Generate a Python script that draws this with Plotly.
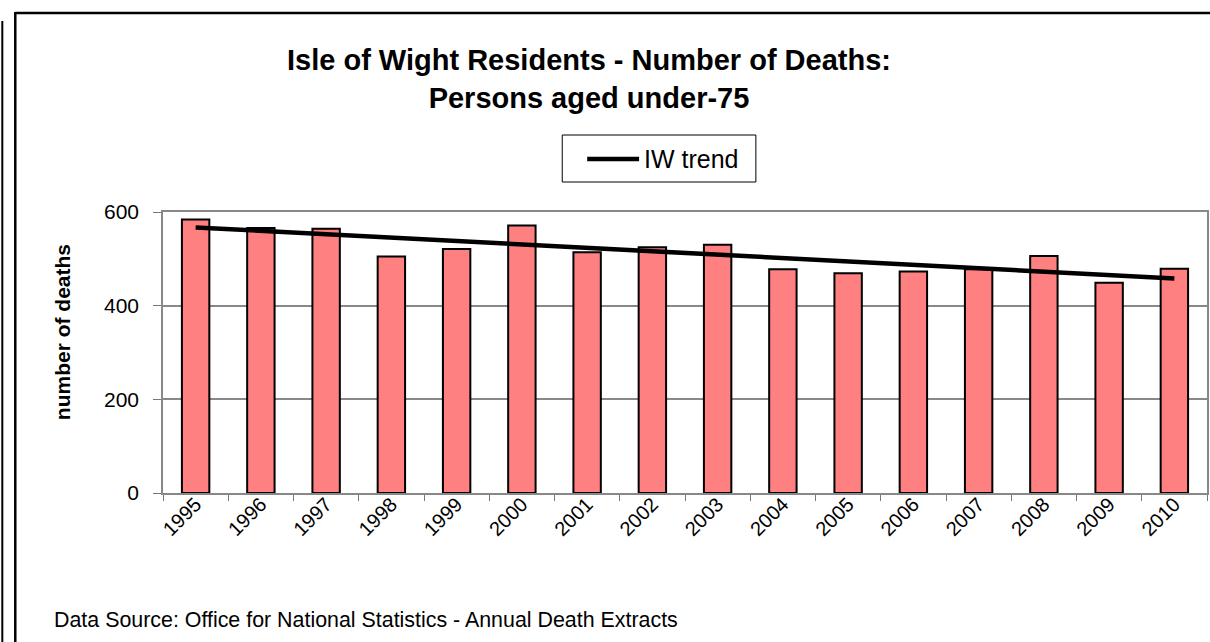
import plotly.graph_objects as go

years = ["1995", "1996", "1997", "1998", "1999", "2000", "2001", "2002",
         "2003", "2004", "2005", "2006", "2007", "2008", "2009", "2010"]
deaths = [584, 566, 564, 505, 521, 571, 514, 525, 530, 478, 469, 473, 478, 506, 449, 479]
trend_years = ["1995", "2010"]
trend_values = [567, 458]
y_ticks = [0, 200, 400, 600]
trend_name = "IW trend"

W, H = 1210, 642
L, R, T, B = 163, 1209, 212, 493


def px(x):
    return (x - L) / (R - L)


def py(y):
    return (B - y) / (B - T)


fig = go.Figure()
fig.add_trace(go.Bar(
    x=years, y=deaths, showlegend=False,
    marker=dict(color="#FF8080", line=dict(color="black", width=2)),
))
fig.add_trace(go.Scatter(
    x=trend_years, y=trend_values, mode="lines", name=trend_name,
    showlegend=False,
    line=dict(color="black", width=4.5),
))

font = "Liberation Sans, Arial, sans-serif"
fig.update_layout(
    width=W, height=H,
    margin=dict(l=L, r=W - R, t=T, b=H - B, pad=0),
    plot_bgcolor="white", paper_bgcolor="white",
    bargap=0.58,
    font=dict(family=font, color="black", size=20),
    xaxis=dict(
        type="category", tickangle=-45, tickson="boundaries",
        ticks="outside", ticklen=6, tickcolor="#777",
        ticklabelstandoff=-10,
        showline=True, linecolor="#888", linewidth=1.5, mirror=True,
        tickfont=dict(size=20, family=font),
        showgrid=False,
    ),
    yaxis=dict(
        range=[0, 600], tickvals=y_ticks,
        ticks="outside", ticklen=8, tickcolor="#777",
        ticklabelstandoff=10,
        showline=True, linecolor="#888", linewidth=1.5, mirror=True,
        showgrid=True, gridcolor="#888", gridwidth=1.5,
        tickfont=dict(size=21, family=font),
        zeroline=False,
    ),
    annotations=[
        dict(text="<b>Isle of Wight Residents - Number of Deaths:<br>Persons aged under-75</b>",
             xref="paper", yref="paper", x=px(590), y=py(79),
             xanchor="center", yanchor="middle", showarrow=False,
             font=dict(size=29, family=font)),
        dict(text=trend_name,
             xref="paper", yref="paper", x=px(643), y=py(159),
             xanchor="left", yanchor="middle", showarrow=False,
             font=dict(size=25, family=font)),
        dict(text="<b>number of deaths</b>", textangle=-90,
             xref="paper", yref="paper", x=px(62), y=py(332),
             xanchor="center", yanchor="middle", showarrow=False,
             font=dict(size=21, family=font)),
        dict(text="Data Source: Office for National Statistics - Annual Death Extracts",
             xref="paper", yref="paper", x=px(52), y=py(620),
             xanchor="left", yanchor="middle", showarrow=False,
             font=dict(size=21.4, family=font)),
    ],
    shapes=[
        # legend box and sample
        dict(type="rect", xref="paper", yref="paper",
             x0=px(563), x1=px(757), y0=py(135), y1=py(182),
             line=dict(color="black", width=1), fillcolor="white", layer="below"),
        dict(type="line", xref="paper", yref="paper",
             x0=px(588), x1=px(640), y0=py(159), y1=py(159),
             line=dict(color="black", width=4.5)),
        # outer frame
        dict(type="line", xref="paper", yref="paper",
             x0=px(15), x1=px(1215), y0=py(13), y1=py(13),
             line=dict(color="black", width=2.5)),
        dict(type="line", xref="paper", yref="paper",
             x0=px(15), x1=px(15), y0=py(12), y1=py(650),
             line=dict(color="black", width=2.5)),
        dict(type="line", xref="paper", yref="paper",
             x0=px(2), x1=px(2), y0=py(21), y1=py(650),
             line=dict(color="black", width=2)),
    ],
)

fig.write_html("out.html", config={"displayModeBar": False},
               post_script="document.body.style.margin='0';")
